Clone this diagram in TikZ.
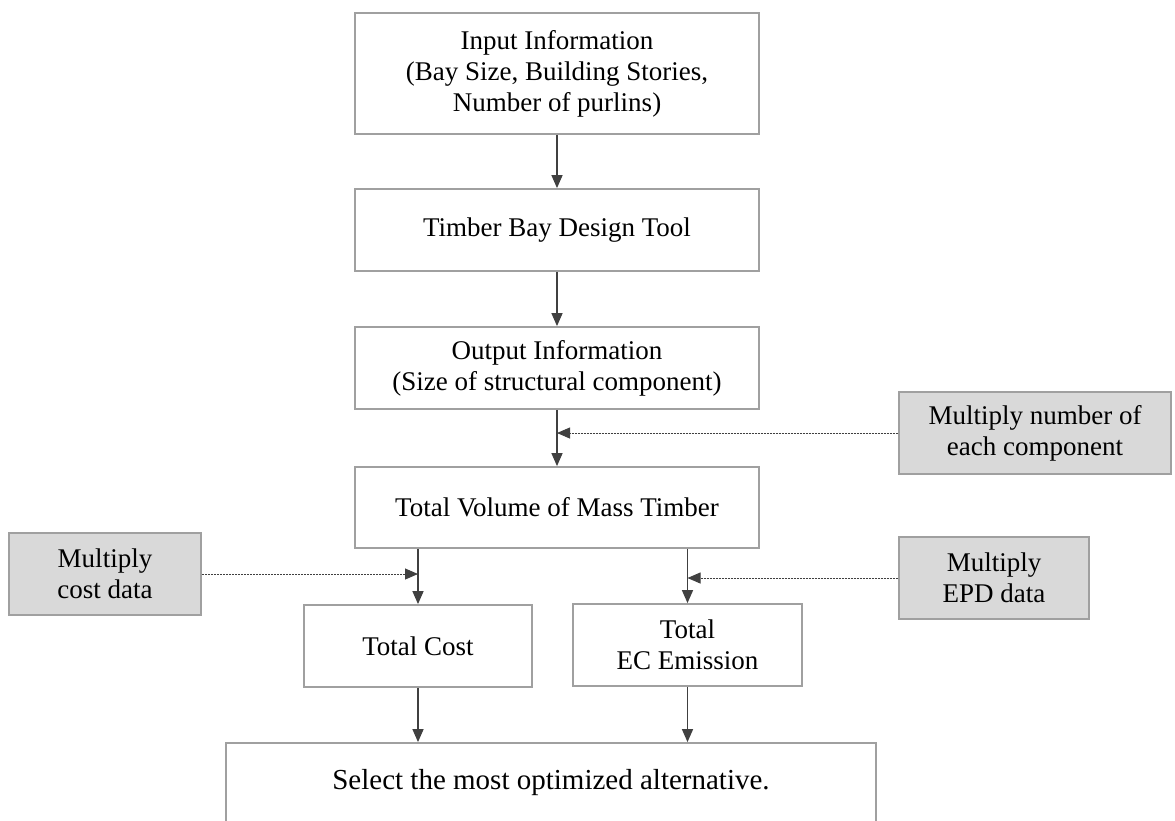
\documentclass[tikz,border=0pt]{standalone}
\usepackage{fontspec}
\setmainfont{Liberation Serif}
\usetikzlibrary{arrows.meta}
\definecolor{boxline}{HTML}{A0A0A0}
\definecolor{arrline}{HTML}{404040}
\definecolor{boxfill}{HTML}{D9D9D9}
\begin{document}
\begin{tikzpicture}[x=1pt,y=-1pt,
  every node/.style={font=\fontsize{27}{31}\selectfont,align=center,inner sep=0pt},
  stepbox/.style={draw=boxline,line width=1.8pt,fill=white,minimum width=404pt,minimum height=82pt},
  factor/.style={draw=boxline,line width=1.5pt,fill=boxfill,minimum height=82pt},
  arr/.style={draw=arrline,line width=1.4pt,-{Triangle[length=13pt,width=11pt]}},
  dotarr/.style={draw=arrline,line width=0.9pt,dash pattern=on 2pt off 1pt,-{Triangle[length=13pt,width=11pt]}}]
  \clip (0,0) rectangle (1175,820);
  \fill[white] (0,0) rectangle (1175,820);
  \node[stepbox,minimum height=121pt] (inp) at (557,73.5) {Input Information\\(Bay Size, Building Stories,\\Number of purlins)};
  \node[stepbox] (tool) at (557,230) {Timber Bay Design Tool};
  \node[stepbox] (outp) at (557,368) {Output Information\\(Size of structural component)};
  \node[stepbox,minimum height=81pt] (vol) at (557,507.5) {Total Volume of Mass Timber};
  \node[factor,minimum width=272pt] (mulnum) at (1035,433) {Multiply number of\\each component};
  \node[factor,minimum width=192pt] (mulcost) at (105,574) {Multiply\\cost data};
  \node[factor,minimum width=190pt] (mulepd) at (994,578) {Multiply\\EPD data};
  \node[stepbox,minimum width=228pt] (cost) at (418,646) {Total Cost};
  \node[stepbox,minimum width=229pt] (ec) at (687.5,645) {Total\\EC Emission};
  \node[stepbox,minimum width=650pt,minimum height=80pt,font=\fontsize{29}{31}\selectfont] (sel) at (551,783) {Select the most optimized alternative.};
  \draw[arr] (inp.south) -- (tool.north);
  \draw[arr] (tool.south) -- (outp.north);
  \draw[arr] (outp.south) -- (vol.north);
  \draw[dotarr] (mulnum.west) -- (mulnum.west -| vol.north);
  \draw[arr] (cost.north |- vol.south) -- (cost.north);
  \draw[arr] (ec.north |- vol.south) -- (ec.north);
  \draw[dotarr] (mulcost.east) -- (mulcost.east -| cost.north);
  \draw[dotarr] (mulepd.west) -- (mulepd.west -| ec.north);
  \draw[arr] (cost.south) -- (cost.south |- sel.north);
  \draw[arr] (ec.south) -- (ec.south |- sel.north);
\end{tikzpicture}
\end{document}
